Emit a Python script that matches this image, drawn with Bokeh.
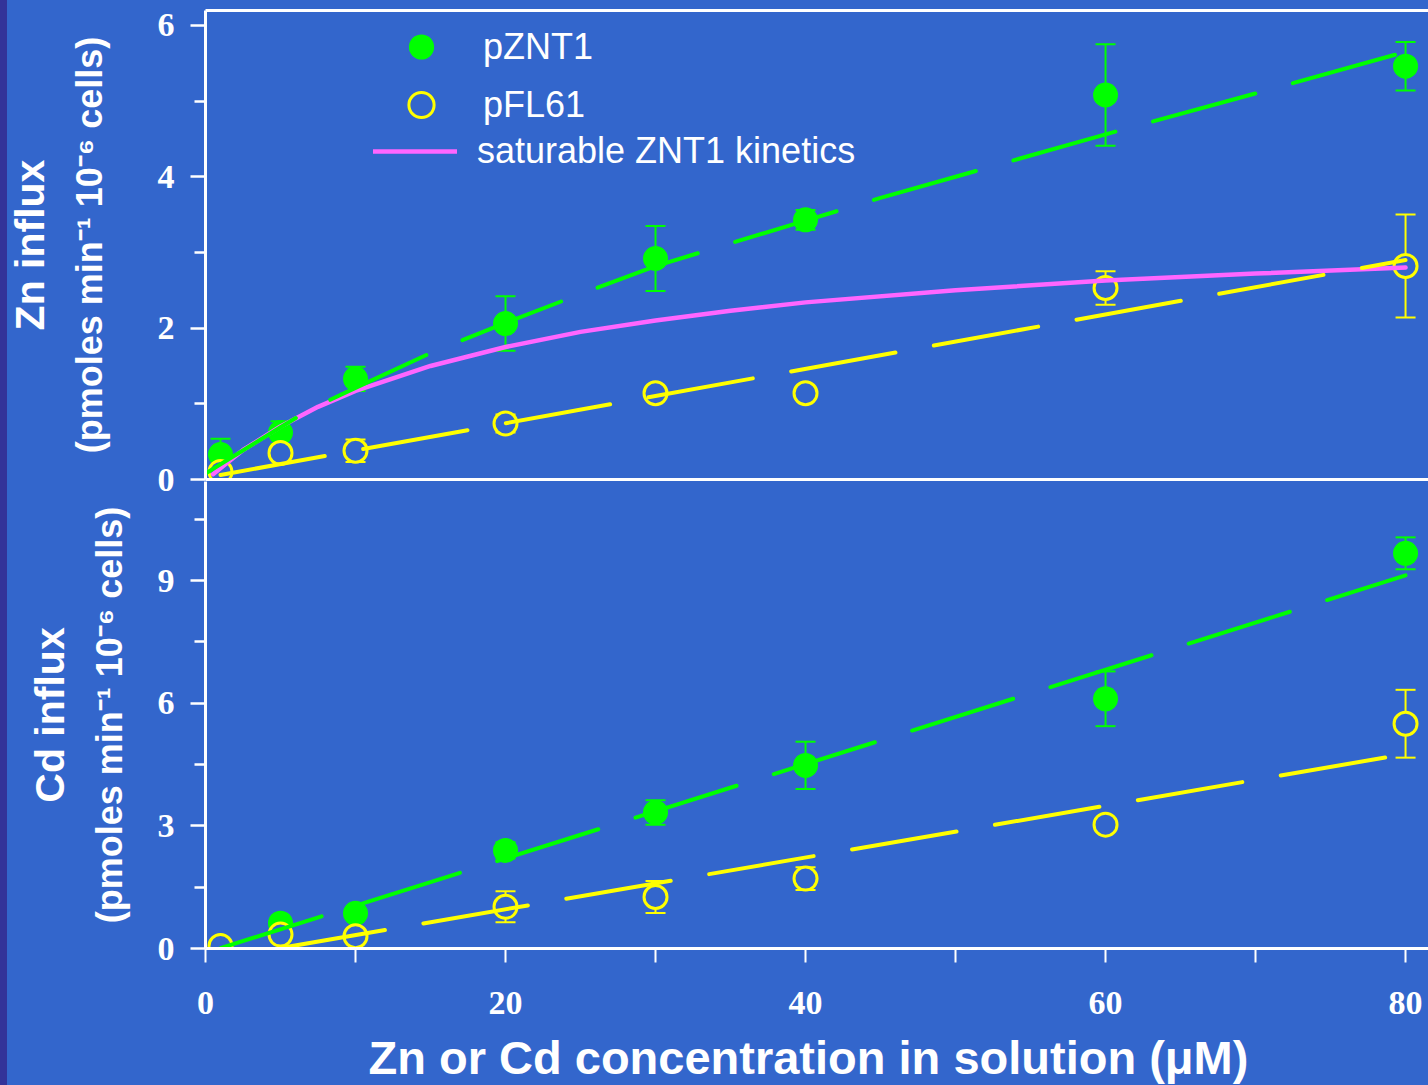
from bokeh.plotting import figure
from bokeh.layouts import column
from bokeh.models import (Range1d, FixedTicker, LinearAxis, Title, Whisker, TeeHead,
                          ColumnDataSource, Legend, LegendItem, GlobalInlineStyleSheet)
from bokeh.embed import file_html
from bokeh.resources import INLINE

# ---------------- data ----------------
conc = [1, 5, 10, 20, 30, 40, 60, 80]

zn_znt1 = [0.33, 0.62, 1.33, 2.06, 2.92, 3.43, 5.08, 5.46]
zn_znt1_err = [0.21, 0.15, 0.16, 0.36, 0.43, 0.13, 0.67, 0.32]
zn_fl61 = [0.10, 0.35, 0.38, 0.74, 1.14, 1.14, 2.53, 2.82]
zn_fl61_err = [0.08, 0.05, 0.15, 0.12, 0.05, 0.05, 0.22, 0.68]

cd_znt1 = [0.06, 0.62, 0.86, 2.40, 3.33, 4.48, 6.11, 9.67]
cd_znt1_err = [0.05, 0.10, 0.10, 0.20, 0.30, 0.58, 0.67, 0.39]
cd_fl61 = [0.06, 0.34, 0.30, 1.02, 1.26, 1.71, 3.03, 5.50]
cd_fl61_err = [0.05, 0.05, 0.05, 0.38, 0.39, 0.28, 0.10, 0.83]

# fitted lines as drawn
zn_znt1_fit_x = [0, 5, 7, 10, 15, 20, 25, 30, 35, 40, 45, 50, 55, 60, 70, 80]
zn_znt1_fit_y = [0.08, 0.69, 0.93, 1.21, 1.67, 2.07, 2.45, 2.82, 3.12, 3.42, 3.72, 4.00, 4.28, 4.56, 5.10, 5.65]
zn_fl61_fit_x = [1, 80]
zn_fl61_fit_y = [0.06, 2.90]
sat_x = [0.5, 2.5, 5, 7.5, 10, 15, 20, 25, 30, 35, 40, 50, 60, 70, 80]
sat_y = [0.07, 0.39, 0.70, 0.96, 1.17, 1.50, 1.75, 1.95, 2.10, 2.23, 2.34, 2.50, 2.63, 2.72, 2.80]
cd_znt1_fit_x = [1, 80]
cd_znt1_fit_y = [0.01, 9.13]
cd_fl61_fit_x = [5, 80]
cd_fl61_fit_y = [0.01, 4.76]

x_ticks = [0, 20, 40, 60, 80]
x_minor = [10, 30, 50, 70]
zn_ticks = [0, 2, 4, 6]
zn_minor = [1, 3, 5]
cd_ticks = [0, 3, 6, 9]
cd_minor = [1.5, 4.5, 7.5, 10.5]

# ---------------- styles ----------------
BG = "#3366CC"
GREEN = "#00FF00"
YELLOW = "#FFFF00"
MAGENTA = "#FF66FF"
WHITE = "#FFFFFF"
SANS = "Liberation Sans"
SERIF = "Liberation Serif"
DASH = "106 39"
X_END = 81.53
SHIFT = 15          # figures are shifted left by this many px (hidden overflow)
LEFT = 205 + SHIFT  # left border inside the figure
WIDTH = 1428 + SHIFT


def base_fig(height, y_end, top, bottom):
    p = figure(width=WIDTH, height=height, x_range=Range1d(0, X_END), y_range=Range1d(0, y_end),
               output_backend="svg", toolbar_location=None,
               min_border_left=LEFT, min_border_right=0, min_border_top=top, min_border_bottom=bottom,
               background_fill_color=BG, border_fill_color=BG, border_fill_alpha=0.0,
               outline_line_color=None)
    p.xgrid.visible = False
    p.ygrid.visible = False
    return p


def style_yaxis(p, ticks, minor, label, standoff):
    ax = p.yaxis[0]
    ax.ticker = FixedTicker(ticks=ticks, minor_ticks=minor)
    ax.axis_line_color = WHITE
    ax.axis_line_width = 3
    ax.major_tick_line_color = WHITE
    ax.major_tick_line_width = 2.5
    ax.major_tick_out = 15
    ax.major_tick_in = 0
    ax.minor_tick_line_color = WHITE
    ax.minor_tick_line_width = 2.5
    ax.minor_tick_out = 11
    ax.minor_tick_in = 0
    ax.major_label_text_font = SERIF
    ax.major_label_text_font_style = "bold"
    ax.major_label_text_font_size = "34px"
    ax.major_label_text_color = WHITE
    ax.major_label_standoff = 16
    ax.axis_label = label
    ax.axis_label_text_font = SANS
    ax.axis_label_text_font_style = "bold"
    ax.axis_label_text_font_size = "36px"
    ax.axis_label_text_color = WHITE
    ax.axis_label_standoff = standoff


def add_errors(p, x, y, err, color):
    src = ColumnDataSource(dict(x=x, lower=[a - e for a, e in zip(y, err)],
                                upper=[a + e for a, e in zip(y, err)]))
    w = Whisker(source=src, base="x", lower="lower", upper="upper",
                line_color=color, line_width=2, level="underlay",
                upper_head=TeeHead(size=20, line_color=color, line_width=2),
                lower_head=TeeHead(size=20, line_color=color, line_width=2))
    p.add_layout(w)


def one_legend(item, x, y, gh, standoff):
    return Legend(items=[item], location=(x, y), glyph_width=84, glyph_height=gh,
                  label_standoff=standoff, label_height=20, padding=0, margin=0, spacing=0,
                  background_fill_alpha=0.0, border_line_alpha=0.0,
                  label_text_font=SANS, label_text_font_size="36px", label_text_color=WHITE)


# ---------------- top panel: Zn influx ----------------
p1 = base_fig(501, 6.196, 10, 22)
style_yaxis(p1, zn_ticks, zn_minor, "(pmoles min\u207b\u00b9 10\u207b\u2076 cells)", 45)
xa = p1.xaxis[0]
xa.ticker = FixedTicker(ticks=[])
xa.axis_line_color = WHITE
xa.axis_line_width = 3
xa.major_tick_out = 0
xa.minor_tick_out = 0
xa.major_label_standoff = 0
top_axis = LinearAxis(ticker=FixedTicker(ticks=[]), axis_line_color=WHITE, axis_line_width=3,
                      major_tick_out=0, minor_tick_out=0, major_label_standoff=0)
p1.add_layout(top_axis, "above")
p1.add_layout(Title(text="Zn influx", align="center", text_font=SANS, text_font_style="bold",
                    text_font_size="41px", text_color=WHITE, standoff=25), "left")

add_errors(p1, conc, zn_znt1, zn_znt1_err, GREEN)
add_errors(p1, conc, zn_fl61, zn_fl61_err, YELLOW)
g1 = p1.scatter(conc, zn_znt1, marker="circle", size=25, fill_color=GREEN, line_color=None)
y1 = p1.scatter(conc, zn_fl61, marker="circle", size=23, fill_color=BG, line_color=YELLOW, line_width=3)
m1 = p1.line(sat_x, sat_y, line_color=MAGENTA, line_width=4.5, line_cap="round")
p1.line(zn_znt1_fit_x, zn_znt1_fit_y, line_color=GREEN, line_width=4, line_dash=DASH, line_cap="round")
p1.line(zn_fl61_fit_x, zn_fl61_fit_y, line_color=YELLOW, line_width=4, line_dash=DASH, line_cap="round")

p1.add_layout(one_legend(LegendItem(label="pZNT1", renderers=[g1]), 174, 401, 63, 20))
p1.add_layout(one_legend(LegendItem(label="pFL61", renderers=[y1]), 174, 343, 63, 20))
p1.add_layout(one_legend(LegendItem(label="saturable ZNT1 kinetics", renderers=[m1]), 168, 307, 40, 20))

# ---------------- bottom panel: Cd influx ----------------
p2 = base_fig(627, 11.427, 0, 160)
p2.styles = {"margin-top": "-20px"}
style_yaxis(p2, cd_ticks, cd_minor, "(pmoles min\u207b\u00b9 10\u207b\u2076 cells)", 25)
p2.add_layout(Title(text="Cd influx", align="center", text_font=SANS, text_font_style="bold",
                    text_font_size="41px", text_color=WHITE, standoff=26), "left")
xb = p2.xaxis[0]
xb.ticker = FixedTicker(ticks=x_ticks, minor_ticks=x_minor)
xb.axis_line_color = WHITE
xb.axis_line_width = 3
xb.major_tick_line_color = WHITE
xb.major_tick_line_width = 2
xb.major_tick_out = 14
xb.major_tick_in = 0
xb.minor_tick_line_color = WHITE
xb.minor_tick_line_width = 2
xb.minor_tick_out = 14
xb.minor_tick_in = 0
xb.major_label_text_font = SERIF
xb.major_label_text_font_style = "bold"
xb.major_label_text_font_size = "34px"
xb.major_label_text_color = WHITE
xb.major_label_standoff = 29
p2.add_layout(Title(text="Zn or Cd concentration in solution (\u03bcM)", align="left", offset=163,
                    vertical_align="top", text_font=SANS, text_font_style="bold",
                    text_font_size="47px", text_color=WHITE, standoff=28), "below")

add_errors(p2, conc, cd_znt1, cd_znt1_err, GREEN)
add_errors(p2, conc, cd_fl61, cd_fl61_err, YELLOW)
p2.scatter(conc, cd_znt1, marker="circle", size=25, fill_color=GREEN, line_color=None)
p2.scatter(conc, cd_fl61, marker="circle", size=23, fill_color=BG, line_color=YELLOW, line_width=3)
p2.line(cd_znt1_fit_x, cd_znt1_fit_y, line_color=GREEN, line_width=4, line_dash=DASH, line_cap="round")
p2.line(cd_fl61_fit_x, cd_fl61_fit_y, line_color=YELLOW, line_width=4, line_dash=DASH, line_cap="round")

css = GlobalInlineStyleSheet(css=(
    "html{background:linear-gradient(90deg,#333399 0px,#333399 7px,#3366CC 7px,#3366CC 100%);}"
    "body{margin:0 !important;padding:0 !important;overflow:hidden;background:transparent;}"))
layout = column(p1, p2, spacing=0, stylesheets=[css], styles={"margin-left": "-%dpx" % SHIFT})

open("out.html", "w").write(file_html(layout, INLINE))
